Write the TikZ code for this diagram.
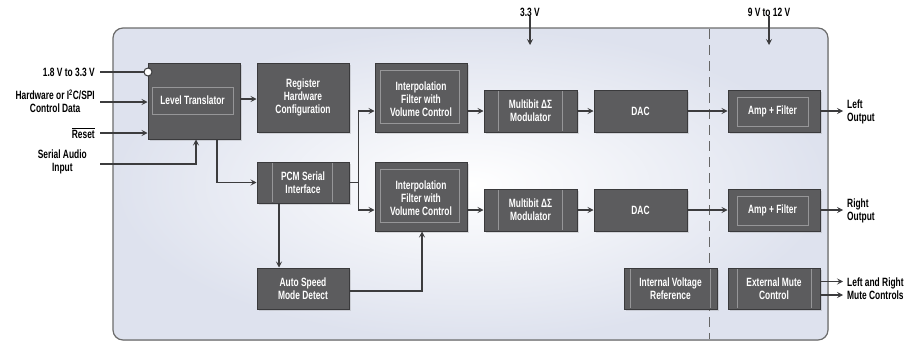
\documentclass[tikz,border=0pt]{standalone}
\usepackage{fontspec}
\setmainfont{Liberation Sans}[FakeStretch=0.7]
\usepackage{tikz}
\usetikzlibrary{arrows.meta,shadows}
\definecolor{blockgray}{RGB}{92,92,94}
\definecolor{blockedge}{RGB}{58,58,60}
\definecolor{innerline}{RGB}{150,150,152}
\definecolor{panelblue}{RGB}{222,226,238}
\definecolor{wiregray}{RGB}{60,60,62}

\begin{document}
\begin{tikzpicture}[x=1pt,y=-1pt,
    blk/.style={draw=blockedge, line width=1pt, fill=blockgray, text=white, align=center,
        font=\bfseries\fontsize{12}{13}\selectfont, minimum width=92pt, minimum height=42pt,
        inner sep=0pt, drop shadow={opacity=0.25, shadow xshift=1.5pt, shadow yshift=-1.5pt}},
    inner/.style={draw=innerline, line width=0.6pt},
    wire/.style={draw=wiregray, line width=1.1pt},
    arr/.style={wire, -{Stealth[length=6pt,width=6pt,inset=2.5pt]}},
    lbl/.style={font=\bfseries\fontsize{12}{13}\selectfont, text=black, inner sep=0pt}]
    \useasboundingbox (0,0) rectangle (919,343);

    % chip outline
    \fill[inner color=white, outer color=panelblue, rounded corners=10pt] (113,28) rectangle (828,340);
    \draw[draw=gray!85!black, line width=1.2pt, rounded corners=10pt] (113,28) rectangle (828,340);
    \draw[draw=gray!80!black, line width=0.8pt, dash pattern=on 10pt off 6pt] (709,29) -- (709,339);

    % blocks
    \node[blk, minimum height=76pt] (lt) at (194,101) {};
    \draw[inner] (152,87) rectangle (233,114);
    \node[text=white, font=\bfseries\fontsize{12}{13}\selectfont] at (192.5,100.5) {Level Translator};
    \node[blk, minimum height=69pt] (reg) at (303,97.5) {Register\\Hardware\\Configuration};
    \node[blk, minimum height=69pt] (ip1) at (421,97.5) {};
    \draw[inner] (380,70) rectangle (459,123);
    \node[text=white, align=center, font=\bfseries\fontsize{12}{13}\selectfont] at (421,99) {Interpolation\\Filter with\\Volume Control};
    \node[blk, minimum width=93pt] (mb1) at (530.5,111) {Multibit ΔΣ\\Modulator};
    \draw[inner] (498,91) -- (498,131) (562,91) -- (562,131);
    \node[blk, minimum width=93pt] (dac1) at (640.5,111) {DAC};
    \node[blk] (amp1) at (774,111) {};
    \draw[inner] (737,97) rectangle (808,126);
    \node[text=white, font=\bfseries\fontsize{12}{13}\selectfont] at (772.5,111) {Amp + Filter};

    \node[blk, minimum height=41pt] (pcm) at (303,182.5) {PCM Serial\\Interface};
    \draw[inner] (272,163) -- (272,202) (332,163) -- (332,202);
    \node[blk, minimum height=69pt] (ip2) at (421,196.5) {};
    \draw[inner] (380,169) rectangle (459,222);
    \node[text=white, align=center, font=\bfseries\fontsize{12}{13}\selectfont] at (421,198) {Interpolation\\Filter with\\Volume Control};
    \node[blk, minimum width=93pt] (mb2) at (530.5,210) {Multibit ΔΣ\\Modulator};
    \draw[inner] (498,190) -- (498,230) (562,190) -- (562,230);
    \node[blk, minimum width=93pt] (dac2) at (640.5,210) {DAC};
    \node[blk] (amp2) at (774,210) {};
    \draw[inner] (737,196) rectangle (808,225);
    \node[text=white, font=\bfseries\fontsize{12}{13}\selectfont] at (772.5,210) {Amp + Filter};

    \node[blk, minimum height=41pt] (asd) at (303,288.5) {Auto Speed\\Mode Detect};
    \node[blk, minimum width=93pt, minimum height=41pt] (ivr) at (670.5,288.5) {Internal Voltage\\Reference};
    \draw[inner] (630,269) -- (630,308) (710,269) -- (710,308);
    \node[blk, minimum height=41pt] (emc) at (774,288.5) {External Mute\\Control};
    \draw[inner] (737,269) -- (737,308) (811,269) -- (811,308);

    % supplies
    \node[lbl] (v33) at (530,12) {3.3 V};
    \coordinate (v33e) at (530,45);
    \draw[arr] (v33.south) -- (v33e);
    \node[lbl] (v912) at (769,12) {9 V to 12 V};
    \coordinate (v912e) at (769,45);
    \draw[arr] (v912.south) -- (v912e);

    % inputs
    \node[lbl, anchor=east] (l18) at (95,72) {1.8 V to 3.3 V};
    \node[lbl, anchor=east, align=center] (lhw) at (95,101.5) {Hardware or I\textsuperscript{2}C/SPI\\Control Data};
    \node[lbl, anchor=east] (lrst) at (95,133) {$\overline{\mbox{Reset}}$};
    \node[lbl, anchor=east, align=center] (lsai) at (87,161.5) {Serial Audio\\Input};
    \coordinate (v18) at (100,72);
    \coordinate (hwin) at (100,102);
    \coordinate (rstin) at (100,133);
    \coordinate (sain) at (100,164);
    \node[circle, draw=wiregray, line width=1pt, fill=white, inner sep=0pt, minimum size=8pt] (pin) at (148,72) {};
    \draw[wire] (v18) -- (pin);
    \draw[arr] (hwin) -- (lt.west |- hwin);
    \draw[arr] (rstin) -- (lt.west |- rstin);
    \draw[arr] (sain) -| ([xshift=2pt]lt.south);

    % internal paths
    \draw[arr] (lt.east |- 0,99) -- (reg.west |- 0,99);
    \draw[arr] ([xshift=23pt]lt.south) |- (pcm.west);
    \draw[arr] (pcm.east) -- ++(9,0) |- (ip1.west |- mb1);
    \draw[arr] (pcm.east) -- ++(9,0) |- (ip2.west |- mb2);
    \draw[arr] ([xshift=-24pt]pcm.south) -- ([xshift=-24pt]asd.north);
    \draw[arr] (asd.east |- 0,291) -| ([xshift=1pt]ip2.south);
    \draw[arr] (ip1.east |- mb1) -- (mb1.west);
    \draw[arr] (mb1.east) -- (dac1.west);
    \draw[arr] (dac1.east) -- (amp1.west);
    \draw[arr] (ip2.east |- mb2) -- (mb2.west);
    \draw[arr] (mb2.east) -- (dac2.west);
    \draw[arr] (dac2.east) -- (amp2.west);

    % outputs
    \coordinate (lout) at (843,111);
    \coordinate (rout) at (843,210);
    \coordinate (mute1) at (843,281.5);
    \coordinate (mute2) at (843,295);
    \draw[arr] (amp1.east) -- (lout);
    \draw[arr] (amp2.east) -- (rout);
    \draw[arr] (emc.east |- mute1) -- (mute1);
    \draw[arr] (emc.east |- mute2) -- (mute2);
    \node[lbl, anchor=west, align=left] (llo) at (847,111.5) {Left\\Output};
    \node[lbl, anchor=west, align=left] (lro) at (847,210.5) {Right\\Output};
    \node[lbl, anchor=west, align=left] (lmc) at (847,288.5) {Left and Right\\Mute Controls};
\end{tikzpicture}
\end{document}
